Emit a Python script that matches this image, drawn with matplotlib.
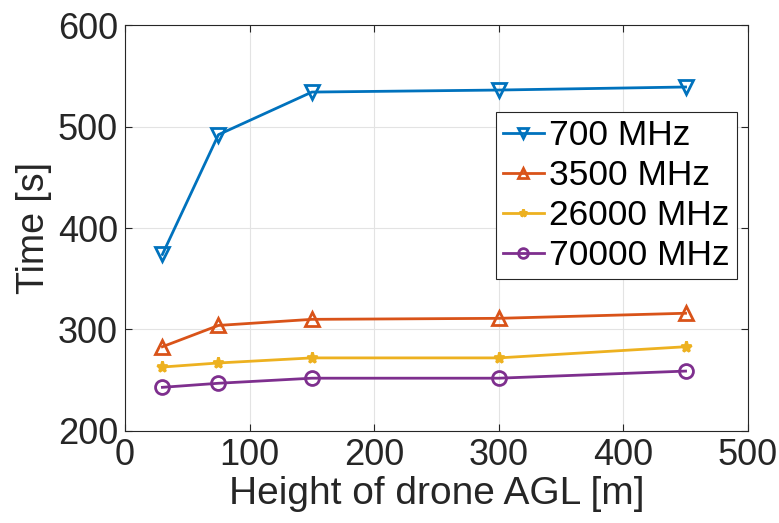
import matplotlib as mpl

mpl.use("Agg")
import matplotlib.pyplot as plt

plt.rcParams["font.family"] = ["Liberation Sans", "DejaVu Sans"]

heights = [30, 75, 150, 300, 450]
t_700 = [374, 492, 534, 536, 539]
t_3500 = [283, 304, 310, 311, 316]
t_26000 = [263, 267, 272, 272, 283]
t_70000 = [243, 247, 252, 252, 259]

series = [
    ("700 MHz", t_700, "#0072BD", "v"),
    ("3500 MHz", t_3500, "#D95319", "^"),
    ("26000 MHz", t_26000, "#EDB120", "*"),
    ("70000 MHz", t_70000, "#7E2F8E", "o"),
]

fig = plt.figure(figsize=(7.79, 5.23), dpi=100, facecolor="white")
ax = fig.add_axes([0.1605, 0.176, 0.7995, 0.776])

for label, vals, color, marker in series:
    filled = marker == "*"
    ax.plot(heights, vals, color=color, lw=2, marker=marker,
            ms=8 if filled else 10, mew=2,
            mfc=color if filled else "none", label=label)

ax.set_xlim(0, 500)
ax.set_ylim(200, 600)
ax.set_xticks(range(0, 501, 100))
ax.set_yticks(range(200, 601, 100))
ax.grid(True, color="#e3e3e3", lw=0.8)
ax.tick_params(direction="in", labelsize=26, colors="#262626", length=5,
               top=True, right=True, pad=5)
for sp in ax.spines.values():
    sp.set_color("#262626")
    sp.set_linewidth(0.8)

ax.set_xlabel("Height of drone AGL [m]", fontsize=28, color="#262626", labelpad=2)
ax.set_ylabel("Time [s]", fontsize=27, color="#262626", labelpad=4)

leg = ax.legend(loc="upper right", bbox_to_anchor=(0.982, 0.786), fontsize=25.5,
                fancybox=False, framealpha=1, edgecolor="#262626",
                handlelength=1.15, handletextpad=0.15, borderpad=0.2,
                labelspacing=0.2, borderaxespad=0, markerscale=0.7)
leg.get_frame().set_linewidth(0.8)

fig.savefig("out.png", dpi=100, facecolor="white")
